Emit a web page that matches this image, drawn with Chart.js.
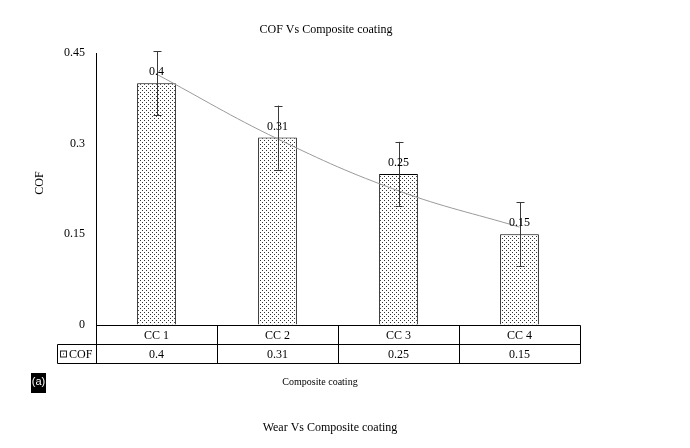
<!DOCTYPE html>
<html>
<head>
<meta charset="utf-8">
<script src="https://cdn.jsdelivr.net/npm/chart.js@4.4.1/dist/chart.umd.min.js"></script>
<style>
  html, body { margin: 0; padding: 0; background: #fff; }
  #wrap { width: 690px; height: 448px; }
</style>
</head>
<body>
<div id="wrap"><canvas id="cofChart" width="690" height="448"></canvas></div>
<script>
// data
const categories = ['CC 1', 'CC 2', 'CC 3', 'CC 4'];
const cofValues = [0.4, 0.31, 0.25, 0.15];
const cofErrors = [0.053, 0.053, 0.053, 0.053];
const trendValues = [0.415, 0.308, 0.222, 0.162];
const yTicks = [0, 0.15, 0.3, 0.45];

const serif = '"Liberation Serif", "Times New Roman", serif';

// dotted fill like the Excel pattern
const makeDots = () => {
    const c = document.createElement('canvas');
    c.width = 4; c.height = 4;
    const g = c.getContext('2d');
    g.fillStyle = '#fff';
    g.fillRect(0, 0, 4, 4);
    g.fillStyle = '#333';
    g.fillRect(0, 0, 1, 1);
    g.fillRect(2, 2, 1, 1);
    return g.createPattern(c, 'repeat');
};
const ctx = document.getElementById('cofChart').getContext('2d');
const dots = makeDots();

const extrasPlugin = {
    id: 'extras',
    afterDatasetsDraw(chart) {
        const g = chart.ctx;
        const x = chart.scales.x, y = chart.scales.y;
        // error bars
        g.save();
        g.strokeStyle = '#3a3a3a';
        g.lineWidth = 1;
        cofValues.forEach((v, i) => {
            const px = Math.round(x.getPixelForValue(i)) + 0.5;
            const top = y.getPixelForValue(v + cofErrors[i]);
            const bot = y.getPixelForValue(v - cofErrors[i]);
            g.beginPath();
            g.moveTo(px, top); g.lineTo(px, bot);
            g.moveTo(px - 4, Math.round(top) + 0.5); g.lineTo(px + 4, Math.round(top) + 0.5);
            g.moveTo(px - 4, Math.round(bot) + 0.5); g.lineTo(px + 4, Math.round(bot) + 0.5);
            g.stroke();
        });
        // value labels
        g.fillStyle = '#000';
        g.font = '12px ' + serif;
        g.textAlign = 'center';
        g.textBaseline = 'alphabetic';
        cofValues.forEach((v, i) => {
            g.fillText(String(v), x.getPixelForValue(i), y.getPixelForValue(v) - 8);
        });
        g.restore();
    },
    afterDraw(chart) {
        const g = chart.ctx;
        const area = chart.chartArea;
        const x = chart.scales.x;
        const step = (area.right - area.left) / categories.length;
        const r0 = Math.round(area.bottom) + 0.5, r1 = r0 + 19, r2 = r1 + 19;
        const L = Math.round(area.left) + 0.5, R = Math.round(area.right) + 0.5;
        g.save();
        g.strokeStyle = '#000';
        g.lineWidth = 1;
        g.beginPath();
        g.moveTo(L, r0); g.lineTo(R, r0);
        g.moveTo(57.5, r1); g.lineTo(R, r1);
        g.moveTo(57.5, r2); g.lineTo(R, r2);
        g.moveTo(57.5, r1); g.lineTo(57.5, r2);
        for (let i = 0; i <= categories.length; i++) {
            const bx = Math.round(area.left + step * i) + 0.5;
            g.moveTo(bx, r0); g.lineTo(bx, r2);
        }
        g.stroke();

        g.fillStyle = '#000';
        g.font = '12px ' + serif;
        g.textAlign = 'center';
        g.textBaseline = 'middle';
        categories.forEach((c, i) => {
            const cx = x.getPixelForValue(i);
            g.fillText(c, cx, r0 + 10);
            g.fillText(String(cofValues[i]), cx, r1 + 10);
        });
        // legend key in table
        g.fillStyle = '#fff';
        g.fillRect(60, r1 + 6, 7, 7);
        g.strokeStyle = '#222';
        g.strokeRect(60.5, r1 + 6.5, 6, 6);
        g.fillStyle = '#222';
        g.fillRect(63, r1 + 9, 1, 1);
        g.fillStyle = '#000';
        g.textAlign = 'left';
        g.fillText('COF', 69, r1 + 10);

        // titles
        g.textAlign = 'center';
        g.font = '12px ' + serif;
        g.fillText('COF Vs Composite coating', 326, 30);
        g.fillText('Wear Vs Composite coating', 330, 428);
        g.font = '10px ' + serif;
        g.fillText('Composite coating', 320, 382);
        g.save();
        g.translate(40, 183);
        g.rotate(-Math.PI / 2);
        g.font = '12px ' + serif;
        g.fillText('COF', 0, 0);
        g.restore();

        // (a) tag
        g.fillStyle = '#000';
        g.fillRect(31, 373, 15, 20);
        g.fillStyle = '#fff';
        g.font = '11px "Liberation Sans", Arial, sans-serif';
        g.fillText('(a)', 38.5, 382);
        g.restore();
    }
};

new Chart(ctx, {
    data: {
        labels: categories,
        datasets: [{
            type: 'line',
            label: 'Trend',
            data: trendValues,
            borderColor: '#9a9a9a',
            borderWidth: 1,
            pointRadius: 0,
            tension: 0.4,
            order: 1
        }, {
            type: 'bar',
            label: 'COF',
            data: cofValues,
            backgroundColor: dots,
            borderColor: '#000',
            borderWidth: 1,
            categoryPercentage: 1,
            barPercentage: 0.32,
            order: 2
        }]
    },
    options: {
        responsive: false,
        animation: false,
        events: [],
        layout: { padding: { left: 0, right: 110, top: 53, bottom: 123 } },
        plugins: { legend: { display: false }, tooltip: { enabled: false } },
        scales: {
            x: { type: 'category', display: false, offset: true },
            y: {
                min: 0,
                max: 0.45,
                afterBuildTicks: (s) => { s.ticks = yTicks.map(v => ({ value: v })); },
                afterFit: (s) => { s.width = 96; },
                grid: { display: true, drawOnChartArea: false, drawTicks: false },
                border: { display: true, color: '#000', width: 1 },
                ticks: {
                    color: '#000',
                    padding: 11,
                    font: { family: serif, size: 12 },
                    callback: (v) => String(v)
                }
            }
        }
    },
    plugins: [extrasPlugin]
});
</script>
</body>
</html>
